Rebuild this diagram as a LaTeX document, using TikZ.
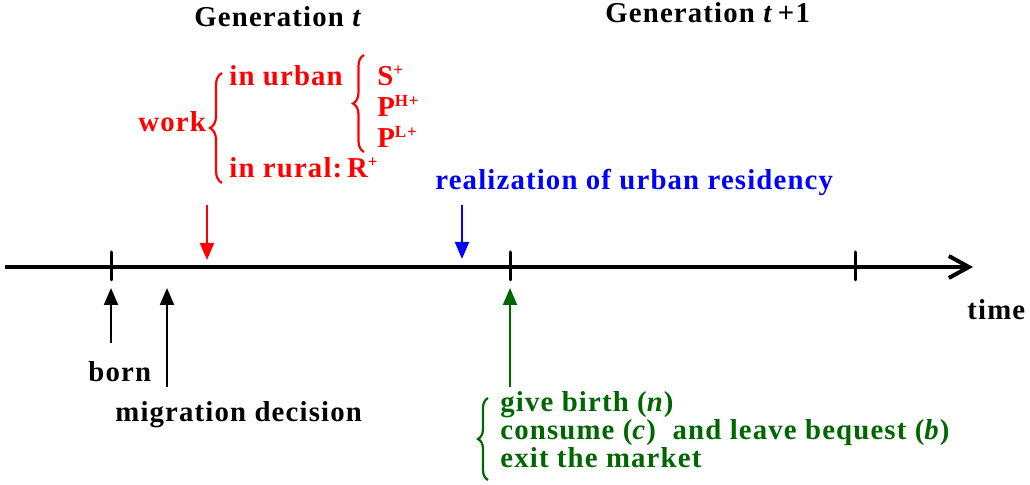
\documentclass[tikz,border=0pt]{standalone}
\usepackage{fontspec}
\setmainfont{Liberation Serif}[LetterSpace=4]
\usetikzlibrary{arrows.meta,decorations.pathreplacing}
\definecolor{dgreen}{RGB}{0,102,0}
\newcommand{\supx}[1]{\raisebox{5pt}{\fontsize{8.5}{9}\selectfont #1}}
\begin{document}
\begin{tikzpicture}[x=0.5pt,y=-0.5pt,
  lbl/.style={font=\bfseries\fontsize{14.4}{17}\selectfont, inner sep=0pt, anchor=base west},
  axis/.style={line width=2pt, -{Straight Barb[length=10pt,width=11pt,line width=2pt]}},
  tick/.style={line width=1.5pt, line cap=round},
  evarrow/.style={line width=1pt, -{Triangle[length=8.5pt,width=7pt]}},
  brc/.style={decorate, decoration={brace, amplitude=#1}, line width=1.1pt}
]
\useasboundingbox (0,0) rectangle (1030,485);
% timeline
\coordinate (tl0) at (5,267);
\coordinate (tl1) at (973,267);
\draw[axis] (tl0) -- (tl1);
\coordinate (t1a) at (111,252); \coordinate (t1b) at (111,280);
\coordinate (t2a) at (510,252); \coordinate (t2b) at (510,280);
\coordinate (t3a) at (855,252); \coordinate (t3b) at (855,280);
\draw[tick] (t1a) -- (t1b);
\draw[tick] (t2a) -- (t2b);
\draw[tick] (t3a) -- (t3b);
% titles
\node[lbl] (gen1) at (194,27) {Generation \textit{t}};
\node[lbl] (gen2) at (605,23) {Generation \textit{t}\,+1};
\node[lbl] (time) at (967,320) {time};
% red block
\begin{scope}[red]
\node[lbl] (work) at (138,132) {work};
\node[lbl] (urban) at (229,86) {in urban};
\node[lbl] (rural) at (229,178) {in rural:\,R\supx{+}};
\node[lbl] (S) at (377,86) {S\supx{+}};
\node[lbl] (PH) at (377,117) {P\supx{H+}};
\node[lbl] (PL) at (377,148) {P\supx{L+}};
\coordinate (b1a) at (222,183); \coordinate (b1b) at (222,73);
\draw[brc=6pt] (b1a) -- (b1b);
\coordinate (b2a) at (364,152); \coordinate (b2b) at (364,55);
\draw[brc=5.5pt] (b2a) -- (b2b);
\coordinate (ra) at (207,205); \coordinate (rb) at (207,260);
\draw[evarrow] (ra) -- (rb);
\end{scope}
% blue
\node[lbl, blue] (real) at (435,190) {realization of urban residency};
\coordinate (ba) at (462,205); \coordinate (bb) at (462,259);
\draw[evarrow, blue] (ba) -- (bb);
% black below
\node[lbl] (born) at (88,382) {born};
\node[lbl] (mig) at (115,422) {migration decision};
\coordinate (bornA) at (111,343); \coordinate (bornB) at (111,288);
\draw[evarrow] (bornA) -- (bornB);
\coordinate (migA) at (167,387); \coordinate (migB) at (167,288);
\draw[evarrow] (migA) -- (migB);
% green
\begin{scope}[dgreen]
\node[lbl] (g1) at (500,412) {give birth (\textit{n})};
\node[lbl] (g2) at (500,440) {consume (\textit{c})\ \ and leave bequest (\textit{b})};
\node[lbl] (g3) at (500,468) {exit the market};
\coordinate (b3a) at (488,480); \coordinate (b3b) at (488,398);
\draw[brc=5pt] (b3a) -- (b3b);
\coordinate (ga) at (510,387); \coordinate (gb) at (510,288);
\draw[evarrow] (ga) -- (gb);
\end{scope}
\end{tikzpicture}
\end{document}
